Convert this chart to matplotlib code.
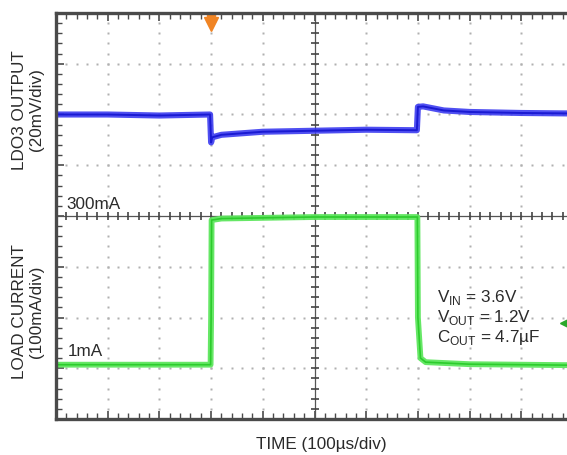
import numpy as np
import matplotlib
matplotlib.use("Agg")
import matplotlib.pyplot as plt

plt.rcParams['font.family'] = ['Liberation Sans', 'DejaVu Sans']

# scope trace breakpoints, in divisions (10 x 8 graticule)
blue_t = [0, 1.0, 2.0, 2.98, 3.0, 3.02, 3.2, 4.0, 5.0, 6.0, 6.98, 7.0, 7.1, 7.5, 8.0, 9.0, 10.0]
blue_v = [6.0, 6.0, 5.98, 6.0, 5.45, 5.55, 5.6, 5.66, 5.68, 5.7, 5.69, 6.15, 6.16, 6.08, 6.05, 6.03, 6.02]

green_t = [0, 1.5, 2.99, 3.0, 3.01, 3.2, 5.0, 6.99, 7.0, 7.05, 7.15, 8.0, 10.0]
green_v = [1.07, 1.07, 1.07, 2.0, 3.92, 3.95, 3.98, 3.98, 2.0, 1.2, 1.12, 1.08, 1.06]

ldo_label = "LDO3 OUTPUT\n(20mV/div)"
cur_label = "LOAD CURRENT\n(100mA/div)"
time_label = "TIME (100\u00b5s/div)"
cond_lines = ["V$_{\\mathregular{IN}}$ = 3.6V", "V$_{\\mathregular{OUT}}$ = 1.2V",
              "C$_{\\mathregular{OUT}}$ = 4.7\u00b5F"]

txt_c = '#2a2a2a'
fs = 12.3

fig = plt.figure(figsize=(5.67, 4.55), dpi=100)
ax = fig.add_axes([56/567, 1-419/455, 517/567, 406/455])
ax.set_xlim(0, 10)
ax.set_ylim(0, 8)

# dotted graticule
dot_c = '#b0b0b0'
for i in range(1, 10):
    if i == 5:
        continue
    yy = np.arange(0, 8.01, 0.2)
    ax.plot(np.full_like(yy, i), yy, ls='none', marker='s', ms=1.8, color=dot_c, mec='none')
for j in range(1, 8):
    if j == 4:
        continue
    xx = np.arange(0, 10.01, 0.2)
    ax.plot(xx, np.full_like(xx, j), ls='none', marker='s', ms=1.8, color=dot_c, mec='none')

# center cross with ticks
ax.axvline(5, color='#555555', lw=0.9)
ax.axhline(4, color='#555555', lw=0.9)
yy = np.arange(0, 8.01, 0.2)
ax.plot(np.full_like(yy, 5), yy, ls='none', marker='_', ms=6, mew=1.2, color='#444444')
xx = np.arange(0, 10.01, 0.2)
ax.plot(xx, np.full_like(xx, 4), ls='none', marker='|', ms=6, mew=1.2, color='#444444')

# traces
ax.plot(blue_t, blue_v, color='#3c3cf0', lw=4.4, alpha=0.9)
ax.plot(blue_t, blue_v, color='#1a1ad2', lw=1.4)
ax.plot(green_t, green_v, color='#5ee65e', lw=4.2, alpha=0.95)
ax.plot(green_t, green_v, color='#2ccc2c', lw=1.2)

# markers
ax.plot(3.0, 7.78, marker='v', ms=10, color='#f08424', clip_on=False)
ax.plot(3.0, 7.9, marker='s', ms=6, color='#f08424', clip_on=False)
ax.plot(9.82, 1.89, marker='<', ms=6, color='#2aa82a')

ax.text(0.2, 4.08, "300mA", fontsize=fs, color=txt_c, ha='left', va='bottom')
ax.text(0.22, 1.18, "1mA", fontsize=fs, color=txt_c, ha='left', va='bottom')
for k, s in enumerate(cond_lines):
    ax.text(7.36, 2.4 - k*0.4, s, fontsize=fs, color=txt_c, ha='left', va='center')

# frame and edge ticks
for sp in ax.spines.values():
    sp.set_color('#4a4a4a')
    sp.set_linewidth(2.4)
ax.set_xticks(np.arange(0, 11, 1))
ax.set_yticks(np.arange(0, 9, 1))
ax.set_xticks(np.arange(0, 10.01, 0.2), minor=True)
ax.set_yticks(np.arange(0, 8.01, 0.2), minor=True)
ax.tick_params(which='both', direction='in', top=True, right=False,
               labelbottom=False, labelleft=False, color='#4a4a4a')
ax.tick_params(which='major', length=6, width=1.2)
ax.tick_params(which='minor', length=4, width=1.0)

fig.text(28/567, 1-110/455, ldo_label, rotation=90, ha='center', va='center',
         fontsize=fs, color=txt_c, linespacing=1.1)
fig.text(28/567, 1-312/455, cur_label, rotation=90, ha='center', va='center',
         fontsize=fs, color=txt_c, linespacing=1.1)
fig.text(321/567, 1-444/455, time_label, ha='center', va='center',
         fontsize=fs, color=txt_c)

fig.savefig("out.png", dpi=100)
